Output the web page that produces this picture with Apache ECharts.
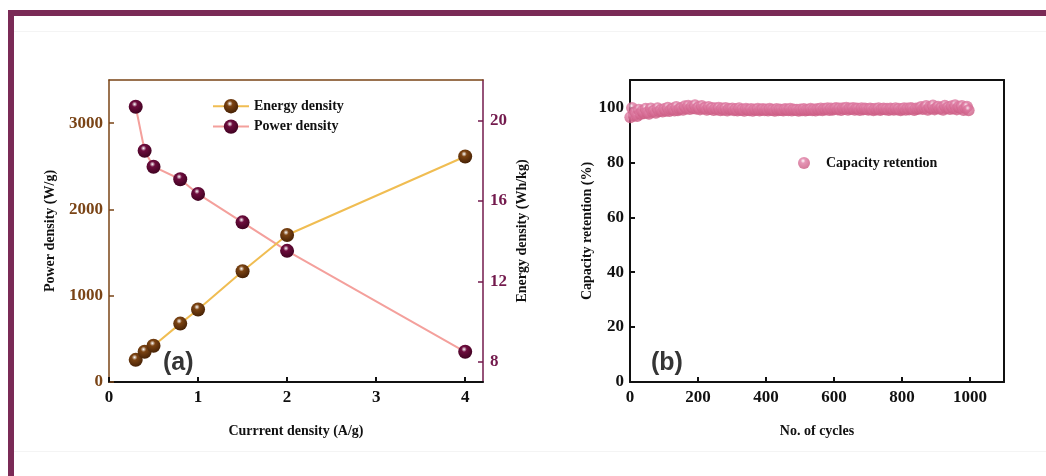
<!DOCTYPE html>
<html>
<head>
<meta charset="utf-8">
<script src="https://cdn.jsdelivr.net/npm/echarts@6/dist/echarts.min.js"></script>
<style>
  html, body { margin: 0; padding: 0; background: #ffffff; }
  #chart { width: 1046px; height: 476px; }
</style>
</head>
<body>
<div id="chart"></div>
<script>
// Panel (a): energy / power density versus current density
const currentDensity = [0.3, 0.4, 0.5, 0.8, 1.0, 1.5, 2.0, 4.0];
const powerDensity = [3190, 2680, 2495, 2350, 2180, 1850, 1520, 350];
const energyDensity = [8.1, 8.5, 8.8, 9.9, 10.6, 12.5, 14.3, 18.2];

// Panel (b): capacity retention, one reading every 5 cycles starting at cycle 1
const cycleStart = 1;
const cycleStep = 5;
const retention = [
  96.4, 99.8, 97.1, 98.3, 96.9, 99.2, 97.6, 98.7, 97.9, 99.5,
  98.2, 97.7, 99.6, 98.4, 98.9, 98.1, 99.7, 98.6, 99.1, 98.5,
  99.4, 98.8, 99.9, 98.7, 99.3, 99.6, 98.9, 100.2, 99.0, 99.5,
  99.8, 99.2, 100.4, 99.6, 100.6, 99.4, 100.3, 99.7, 100.8, 99.5,
  100.1, 99.3, 100.5, 99.6, 99.9, 99.2, 100.2, 99.4, 99.8, 99.1,
  99.7, 99.3, 99.9, 99.0, 99.6, 99.2, 99.8, 98.9, 99.5, 99.3,
  99.6, 99.0, 99.4, 98.9, 99.7, 99.1, 99.3, 98.8, 99.5, 99.2,
  99.0, 99.4, 98.8, 99.3, 99.1, 99.5, 98.9, 99.2, 99.4, 99.0,
  99.3, 98.9, 99.5, 99.1, 99.2, 98.8, 99.4, 99.0, 99.3, 99.1,
  98.9, 99.4, 99.2, 99.0, 99.5, 98.9, 99.3, 99.1, 99.2, 98.8,
  99.3, 99.0, 99.4, 98.9, 99.2, 99.1, 99.5, 99.0, 99.3, 98.9,
  99.4, 99.2, 99.6, 99.0, 99.5, 99.3, 99.7, 99.1, 99.6, 99.2,
  99.5, 99.8, 99.3, 99.6, 99.1, 99.7, 99.4, 99.9, 99.2, 99.6,
  99.4, 99.8, 99.2, 99.6, 99.5, 99.1, 99.7, 99.3, 99.6, 99.4,
  99.2, 99.6, 99.4, 99.0, 99.5, 99.3, 99.7, 99.1, 99.4, 99.6,
  99.3, 99.5, 99.1, 99.6, 99.4, 99.2, 99.7, 99.3, 99.5, 99.0,
  99.4, 99.7, 99.2, 99.6, 99.3, 99.8, 99.5, 99.1, 99.6, 99.4,
  99.7, 100.2, 99.4, 99.9, 100.5, 99.2, 100.1, 99.6, 100.7, 99.3,
  99.8, 100.3, 99.5, 100.0, 99.2, 100.6, 99.7, 100.1, 99.4, 100.4,
  99.6, 100.8, 99.3, 100.2, 99.8, 100.5, 99.1, 99.9, 100.3, 99.0
];

// Tick labels
const currentTicks = [0, 1, 2, 3, 4];
const powerTicks = [0, 1000, 2000, 3000];
const energyTicks = [8, 12, 16, 20];
const cycleTicks = [0, 200, 400, 600, 800, 1000];
const retentionTicks = [0, 20, 40, 60, 80, 100];

const SERIF = "'Liberation Serif', 'Times New Roman', serif";
const BROWN = '#7a4416';
const MAROON = '#731a4d';

function sphere(base, dark) {
  return new echarts.graphic.RadialGradient(0.42, 0.32, 0.7, [
    { offset: 0, color: '#ffffff' },
    { offset: 0.28, color: base },
    { offset: 1, color: dark }
  ]);
}

const chart = echarts.init(document.getElementById('chart'), null, { renderer: 'canvas' });

function tickLabel(color) {
  return {
    color: color, fontFamily: SERIF, fontWeight: 'bold', fontSize: 17,
    formatter: (v) => String(v)
  };
}

const titleStyle = { fontFamily: SERIF, fontWeight: 'bold', fontSize: 14, color: '#111' };

const option = {
  backgroundColor: '#ffffff',
  animation: false,
  grid: [
    { left: 109, right: 563, top: 80, bottom: 94 },
    { left: 630, right: 42, top: 80, bottom: 94 }
  ],
  legend: [
    {
      data: ['Energy density', 'Power density'],
      orient: 'vertical',
      left: 212, top: 99, padding: 0,
      itemWidth: 36, itemHeight: 18, itemGap: 6,
      textStyle: { ...titleStyle }
    },
    {
      data: ['Capacity retention'],
      left: 798, top: 156, padding: 0,
      itemWidth: 12, itemHeight: 12,
      textStyle: { ...titleStyle, padding: [0, 0, 0, 11] }
    }
  ],
  xAxis: [
    {
      type: 'value', gridIndex: 0, position: 'bottom', min: 0, max: 4.2,
      name: 'Currrent density (A/g)', nameLocation: 'middle', nameGap: 42,
      nameTextStyle: titleStyle,
      axisLine: { show: true, onZero: false, lineStyle: { color: '#111', width: 2 } },
      axisTick: { show: true, inside: true, length: 5, customValues: currentTicks, lineStyle: { color: '#111', width: 2 } },
      axisLabel: { ...tickLabel('#111'), margin: 7, customValues: currentTicks },
      splitLine: { show: false }
    },
    {
      type: 'value', gridIndex: 0, position: 'top', min: 0, max: 4.2,
      axisLine: { show: true, onZero: false, lineStyle: { color: BROWN, width: 1.5 } },
      axisTick: { show: false }, axisLabel: { show: false }, splitLine: { show: false }
    },
    {
      type: 'value', gridIndex: 1, position: 'bottom', min: 0, max: 1100,
      name: 'No. of cycles', nameLocation: 'middle', nameGap: 42,
      nameTextStyle: titleStyle,
      axisLine: { show: true, onZero: false, lineStyle: { color: '#111', width: 2 } },
      axisTick: { show: true, inside: true, length: 5, customValues: cycleTicks, lineStyle: { color: '#111', width: 2 } },
      axisLabel: { ...tickLabel('#111'), margin: 7, customValues: cycleTicks },
      splitLine: { show: false }
    },
    {
      type: 'value', gridIndex: 1, position: 'top', min: 0, max: 1100,
      axisLine: { show: true, onZero: false, lineStyle: { color: '#111', width: 2 } },
      axisTick: { show: false }, axisLabel: { show: false }, splitLine: { show: false }
    }
  ],
  yAxis: [
    {
      type: 'value', gridIndex: 0, position: 'left', min: 0, max: 3500,
      name: 'Power density (W/g)', nameLocation: 'middle', nameGap: 52, nameRotate: 90,
      nameTextStyle: titleStyle,
      axisLine: { show: true, onZero: false, lineStyle: { color: BROWN, width: 1.5 } },
      axisTick: { show: true, inside: true, length: 5, customValues: powerTicks, lineStyle: { color: BROWN, width: 1.5 } },
      axisLabel: { ...tickLabel(BROWN), margin: 6, customValues: powerTicks },
      splitLine: { show: false }
    },
    {
      type: 'value', gridIndex: 0, position: 'right', min: 7, max: 22,
      name: 'Energy density (Wh/kg)', nameLocation: 'middle', nameGap: 32, nameRotate: 90,
      nameTextStyle: titleStyle,
      axisLine: { show: true, onZero: false, lineStyle: { color: MAROON, width: 1.5 } },
      axisTick: { show: true, inside: true, length: 5, customValues: energyTicks, lineStyle: { color: MAROON, width: 1.5 } },
      axisLabel: { ...tickLabel(MAROON), margin: 7, customValues: energyTicks },
      splitLine: { show: false }
    },
    {
      type: 'value', gridIndex: 1, position: 'left', min: 0, max: 110,
      name: 'Capacity retention (%)', nameLocation: 'middle', nameGap: 36, nameRotate: 90,
      nameTextStyle: titleStyle,
      axisLine: { show: true, onZero: false, lineStyle: { color: '#111', width: 2 } },
      axisTick: { show: true, inside: true, length: 5, customValues: retentionTicks, lineStyle: { color: '#111', width: 2 } },
      axisLabel: { ...tickLabel('#111'), margin: 6, customValues: retentionTicks },
      splitLine: { show: false }
    },
    {
      type: 'value', gridIndex: 1, position: 'right', min: 0, max: 110,
      axisLine: { show: true, onZero: false, lineStyle: { color: '#111', width: 2 } },
      axisTick: { show: false }, axisLabel: { show: false }, splitLine: { show: false }
    }
  ],
  series: [
    {
      name: 'Power density', type: 'line', xAxisIndex: 0, yAxisIndex: 0,
      data: currentDensity.map((c, i) => [c, powerDensity[i]]),
      symbol: 'circle', symbolSize: 14,
      lineStyle: { color: '#f4a09c', width: 2 },
      itemStyle: { color: sphere('#6d0c3d', '#3e0220') }
    },
    {
      name: 'Energy density', type: 'line', xAxisIndex: 0, yAxisIndex: 1,
      data: currentDensity.map((c, i) => [c, energyDensity[i]]),
      symbol: 'circle', symbolSize: 14,
      lineStyle: { color: '#f0bd52', width: 2 },
      itemStyle: { color: sphere('#7b4312', '#442005') }
    },
    {
      name: 'Capacity retention', type: 'scatter', xAxisIndex: 2, yAxisIndex: 2,
      data: retention.map((v, i) => [cycleStart + i * cycleStep, v]),
      symbol: 'circle', symbolSize: 12,
      itemStyle: { color: sphere('#df7ca4', '#c9587f') }
    }
  ],
  graphic: [
    // page frame
    { type: 'rect', shape: { x: 8, y: 10, width: 1038, height: 6 }, style: { fill: '#7a2a56' }, silent: true },
    { type: 'rect', shape: { x: 8, y: 10, width: 6, height: 466 }, style: { fill: '#7a2a56' }, silent: true },
    { type: 'line', shape: { x1: 14, y1: 31.5, x2: 1046, y2: 31.5 }, style: { stroke: '#f4f4f4', lineWidth: 1 }, silent: true },
    { type: 'line', shape: { x1: 14, y1: 451.5, x2: 1046, y2: 451.5 }, style: { stroke: '#f4f4f4', lineWidth: 1 }, silent: true },
    // panel tags
    { type: 'text', left: 163, top: 351, style: { text: '(a)', fontFamily: "'Liberation Sans', Arial, sans-serif", fontWeight: 'bold', fontSize: 25, fill: '#353535' }, silent: true },
    { type: 'text', left: 651, top: 351, style: { text: '(b)', fontFamily: "'Liberation Sans', Arial, sans-serif", fontWeight: 'bold', fontSize: 25, fill: '#353535' }, silent: true }
  ]
};

chart.setOption(option);
</script>
</body>
</html>
